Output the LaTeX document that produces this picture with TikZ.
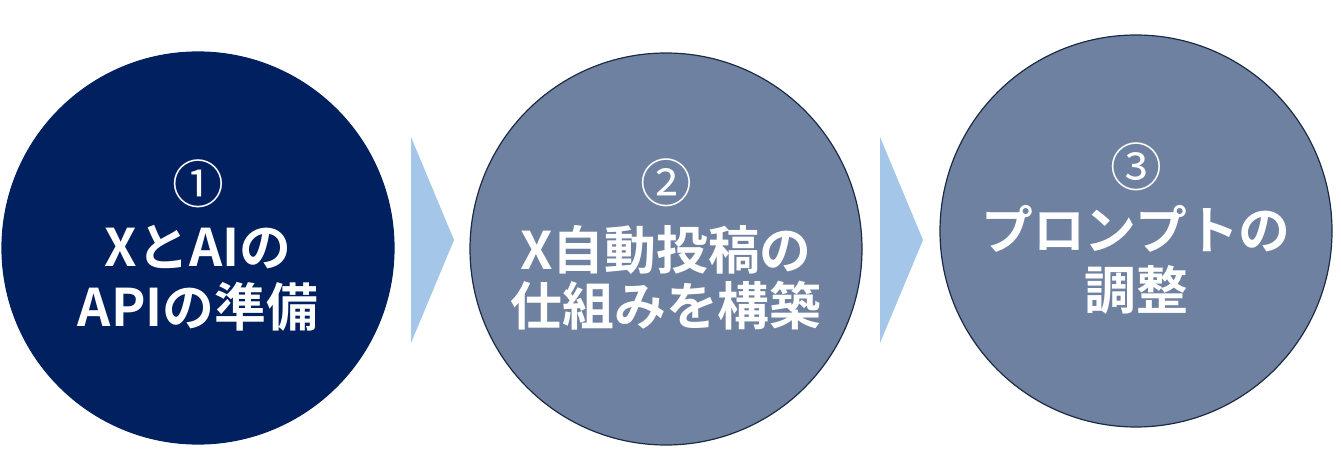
\documentclass[tikz,border=0pt]{standalone}
\usepackage{fontspec}
\newfontfamily\jpfont{Noto Sans CJK JP}[BoldFont={Noto Sans CJK JP Bold}]
\definecolor{navy}{HTML}{012060}
\definecolor{slate}{HTML}{6F81A1}
\definecolor{edge}{HTML}{1C2B44}
\definecolor{chev}{HTML}{A4C6E8}
\begin{document}
\begin{tikzpicture}[x=1bp,y=-1bp,
  stepcircle/.style={circle, minimum size=392bp, inner sep=0pt, draw=edge, line width=1.2bp},
  numtext/.style={anchor=base, text=white, inner sep=0pt, font=\jpfont\fontsize{52}{52}\selectfont},
  bodytext/.style={anchor=base, text=white, inner sep=0pt, font=\jpfont\bfseries\fontsize{52}{58}\selectfont},
  chevron/.style={fill=chev, draw=none}]
\useasboundingbox (0,0) rectangle (1341,449);
% circles
\node[stepcircle, fill=navy, draw=navy] (c1) at (198,248) {};
\node[stepcircle, fill=slate] (c2) at (666,249) {};
\node[stepcircle, fill=slate] (c3) at (1136,231) {};
% texts circle 1
\node[numtext] (n1) at ([yshift=44bp]c1.center) {①};
\node[bodytext] (t1a) at ([yshift=-19bp]c1.center) {XとAIの};
\node[bodytext] (t1b) at ([yshift=-78bp]c1.center) {APIの準備};
% texts circle 2
\node[numtext] (n2) at ([yshift=46bp]c2.center) {②};
\node[bodytext] (t2a) at ([yshift=-20bp]c2.center) {X自動投稿の};
\node[bodytext] (t2b) at ([yshift=-76bp]c2.center) {仕組みを構築};
% texts circle 3
\node[numtext] (n3) at ([yshift=44bp]c3.center) {③};
\node[bodytext] (t3a) at ([yshift=-19bp]c3.center) {プロンプトの};
\node[bodytext] (t3b) at ([yshift=-78bp]c3.center) {調整};
% chevrons between circles
\coordinate (a1t) at (411,137);
\coordinate (a1b) at (411,343);
\coordinate (a1p) at (454,240);
\fill[chevron] (a1t) -- (a1p) -- (a1b) -- cycle;
\coordinate (a2t) at (880,137);
\coordinate (a2b) at (880,343);
\coordinate (a2p) at (923,240);
\fill[chevron] (a2t) -- (a2p) -- (a2b) -- cycle;
\end{tikzpicture}
\end{document}
